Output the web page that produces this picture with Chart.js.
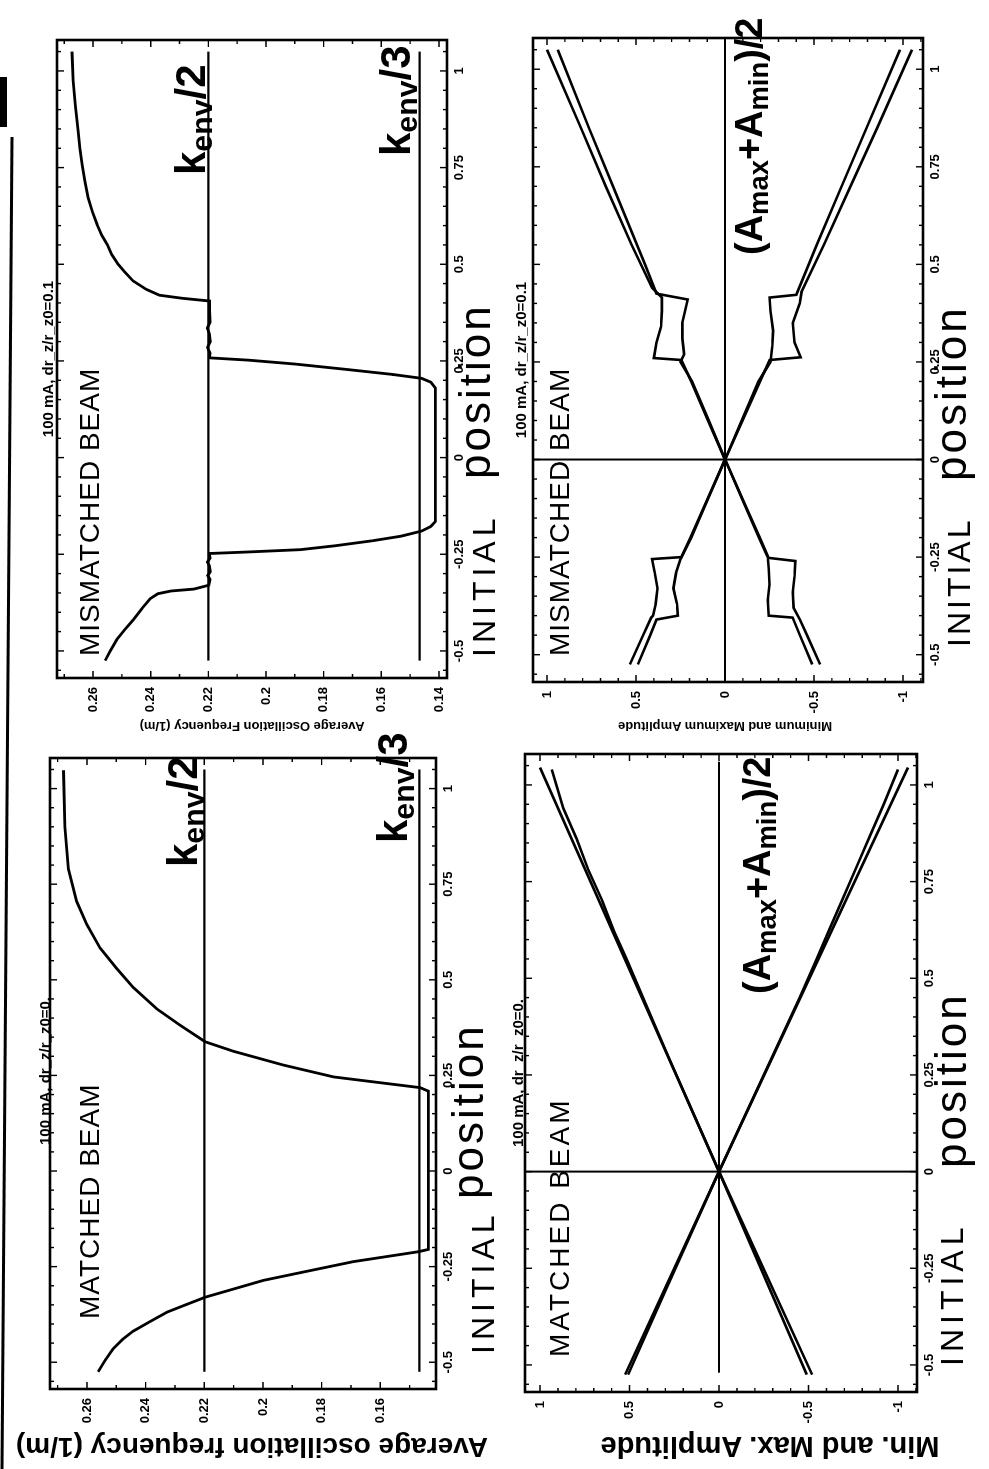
<!DOCTYPE html>
<html>
<head>
<meta charset="utf-8">
<script src="https://cdn.jsdelivr.net/npm/chart.js@4.4.0/dist/chart.umd.min.js"></script>
<style>
  html, body { margin: 0; padding: 0; background: #fff; overflow: hidden; width: 989px; height: 1469px; }
  /* the whole figure is laid out in landscape and turned a quarter turn, like the scan */
  #sheet { position: absolute; left: 0; top: 0; width: 1469px; height: 989px;
           transform-origin: 0 0; transform: translate(0, 1469px) rotate(-90deg);
           font-family: "Liberation Sans", Arial, sans-serif; color: #000; }
  canvas { position: absolute; }
  .t { position: absolute; white-space: nowrap; line-height: 1; }
  .hand { font-weight: normal; }
  .big { font-size: 44px; letter-spacing: 3px; }
  .k { font-weight: bold; font-size: 42px; }
  .k sub, .am sub { font-size: 0.72em; vertical-align: -0.22em; line-height: 0; }
  .am { font-weight: bold; font-size: 38px; }
  .ttl { font-weight: bold; font-size: 15px; transform: translate(-50%, -50%); }
  .ylab { font-weight: bold; transform: translate(-50%, -50%) rotate(-90deg); }
</style>
</head>
<body>
<div id="sheet">
  <svg style="position:absolute;left:0;top:0" width="1469" height="989">
    <line x1="0" y1="2" x2="1332" y2="12" stroke="#000" stroke-width="3"/>
    <rect x="1342" y="0" width="50" height="7" fill="#000"/>
  </svg>

  <canvas id="cMatFreq" width="700" height="436" style="left:25px;top:30px"></canvas>
  <canvas id="cMisFreq" width="707" height="440" style="left:736px;top:37px"></canvas>
  <canvas id="cMatAmp" width="707" height="442" style="left:22px;top:505px"></canvas>
  <canvas id="cMisAmp" width="713" height="440" style="left:732px;top:513px"></canvas>

  <!-- panel titles -->
  <div class="t ttl" style="left:398px;top:44px">100 mA, dr_z/r_z0=0.</div>
  <div class="t ttl" style="left:1110px;top:47px">100 mA, dr_z/r_z0=0.1</div>
  <div class="t ttl" style="left:396px;top:517px">100 mA, dr_z/r_z0=0.</div>
  <div class="t ttl" style="left:1109px;top:520px">100 mA, dr_z/r_z0=0.1</div>

  <!-- y axis titles -->
  <div class="t ylab" style="left:22px;top:252px;font-size:28px">Average oscillation frequency (1/m)</div>
  <div class="t ylab" style="left:742px;top:252px;font-size:13px">Average Oscillation Frequency (1/m)</div>
  <div class="t ylab" style="left:22px;top:770px;font-size:29px">Min. and Max. Amplitude</div>
  <div class="t ylab" style="left:742px;top:725px;font-size:13px">Minimum and Maximum Amplitude</div>

  <!-- hand written notes -->
  <div class="t hand" style="left:150px;top:76px;font-size:28px;letter-spacing:1px">MATCHED BEAM</div>
  <div class="t hand" style="left:813px;top:76px;font-size:28px;letter-spacing:1px">MISMATCHED BEAM</div>
  <div class="t hand" style="left:112px;top:546px;font-size:28px;letter-spacing:3px">MATCHED BEAM</div>
  <div class="t hand" style="left:813px;top:546px;font-size:28px;letter-spacing:1px">MISMATCHED BEAM</div>

  <div class="t hand" style="left:115px;top:467px;font-size:32px;letter-spacing:5px">INITIAL</div>
  <div class="t hand" style="left:812px;top:468px;font-size:32px;letter-spacing:5px">INITIAL</div>
  <div class="t hand" style="left:103px;top:936px;font-size:32px;letter-spacing:5px">INITIAL</div>
  <div class="t hand" style="left:822px;top:943px;font-size:32px;letter-spacing:3px">INITIAL</div>

  <div class="t big" style="left:270px;top:446px">position</div>
  <div class="t big" style="left:990px;top:453px">position</div>
  <div class="t big" style="left:301px;top:929px">position</div>
  <div class="t big" style="left:988px;top:929px">position</div>

  <div class="t k" style="left:602px;top:162px">k<sub>env</sub>/2</div>
  <div class="t k" style="left:626px;top:372px">k<sub>env</sub>/3</div>
  <div class="t k" style="left:1294px;top:170px">k<sub>env</sub>/2</div>
  <div class="t k" style="left:1313px;top:375px">k<sub>env</sub>/3</div>

  <div class="t am" style="left:475px;top:738px">(A<sub>max</sub>+A<sub>min</sub>)/2</div>
  <div class="t am" style="left:1214px;top:730px">(A<sub>max</sub>+A<sub>min</sub>)/2</div>
</div>

<script>
// axes
const posTicks = [-0.5, -0.25, 0, 0.25, 0.5, 0.75, 1];
const freqTicksMat = [0.16, 0.18, 0.2, 0.22, 0.24, 0.26];
const freqTicksMis = [0.14, 0.16, 0.18, 0.2, 0.22, 0.24, 0.26];
const ampTicks = [-1, -0.5, 0, 0.5, 1];

// reference lines
const kEnvHalf = 0.22;
const kEnvThird = 0.1467;
const refLinePos = [-0.525, 1.05];

// matched beam, oscillation frequency vs initial position
const matFreqPos = [-0.525, -0.495, -0.465, -0.44, -0.419, -0.395, -0.369, -0.35, -0.33, -0.31,
  -0.286, -0.262, -0.237, -0.224, -0.211, -0.205, 0, 0.209, 0.218, 0.246, 0.277, 0.313, 0.338,
  0.381, 0.424, 0.48, 0.529, 0.583, 0.645, 0.705, 0.79, 0.9, 1.048];
const matFreqVal = [0.2562, 0.2538, 0.2511, 0.2478, 0.2443, 0.2388, 0.2327, 0.2264, 0.2197, 0.2107,
  0.1999, 0.1849, 0.1692, 0.1581, 0.147, 0.1436, 0.1436, 0.1436, 0.1464, 0.1759, 0.193, 0.21, 0.2197,
  0.2282, 0.2362, 0.2442, 0.2498, 0.2555, 0.2601, 0.2635, 0.2663, 0.2675, 0.268];

// mismatched beam, oscillation frequency vs initial position
const misFreqPos = [-0.525, -0.5, -0.47, -0.445, -0.42, -0.39, -0.365, -0.352, -0.345, -0.34,
  -0.33, -0.315, -0.305, -0.295, -0.28, -0.27, -0.26, -0.248, -0.244, -0.238, -0.228, -0.215,
  -0.203, -0.19, -0.178, -0.165, 0.18, 0.195, 0.205, 0.215, 0.228, 0.242, 0.252, 0.258, 0.27,
  0.285, 0.3, 0.32, 0.335, 0.35, 0.38, 0.405, 0.412, 0.42, 0.435, 0.457, 0.48, 0.5, 0.525, 0.551,
  0.575, 0.603, 0.635, 0.672, 0.715, 0.758, 0.8, 0.845, 0.91, 0.975, 1.05];
const misFreqVal = [0.2558, 0.254, 0.2517, 0.249, 0.2461, 0.243, 0.2402, 0.2375, 0.233, 0.225,
  0.2198, 0.2194, 0.2202, 0.2193, 0.2196, 0.2203, 0.2194, 0.2196, 0.206, 0.188, 0.176, 0.163,
  0.153, 0.146, 0.1428, 0.1412, 0.1412, 0.1428, 0.146, 0.156, 0.172, 0.19, 0.206, 0.2196, 0.2194,
  0.2203, 0.2193, 0.2196, 0.2204, 0.2194, 0.2196, 0.2196, 0.229, 0.237, 0.2415, 0.2461, 0.249, 0.2513,
  0.2535, 0.2551, 0.257, 0.2586, 0.2602, 0.2617, 0.2628, 0.2638, 0.2646, 0.2652, 0.2661, 0.2669, 0.2673];

// matched beam, min and max amplitude
const matMaxOuterPos = [-0.525, 0, 1.045];
const matMaxOuterVal = [0.525, 0, 1.0];
const matMaxInnerPos = [-0.525, -0.3, 0, 0.3, 0.45, 0.55, 0.62, 0.7, 0.78, 0.86, 0.94, 1.04];
const matMaxInnerVal = [0.508, 0.292, 0, 0.286, 0.425, 0.517, 0.585, 0.652, 0.73, 0.795, 0.87, 0.935];
const matMinOuterPos = [-0.525, 0, 1.045];
const matMinOuterVal = [-0.52, 0, -1.056];
const matMinInnerPos = [-0.525, 0, 0.45, 0.55, 0.63, 0.71, 0.79, 0.87, 0.95, 1.04];
const matMinInnerVal = [-0.49, 0, -0.45, -0.545, -0.62, -0.695, -0.77, -0.845, -0.92, -1.0];
const matMidPos = [-0.52, 1.06];
const matMidVal = [0, 0];

// mismatched beam, min and max amplitude
const misMaxAPos = [-0.525, -0.45, -0.405, -0.4, -0.37, -0.33, -0.29, -0.255, -0.25, -0.2, -0.1, 0,
  0.1, 0.2, 0.255, 0.26, 0.3, 0.34, 0.38, 0.415, 0.44, 0.55, 0.7, 0.85, 1.05];
const misMaxAVal = [0.535, 0.46, 0.415, 0.405, 0.39, 0.38, 0.395, 0.41, 0.245, 0.195, 0.097, 0,
  0.096, 0.19, 0.245, 0.4, 0.385, 0.36, 0.355, 0.355, 0.41, 0.525, 0.67, 0.81, 1.0];
const misMaxBPos = [-0.525, -0.45, -0.41, -0.4, -0.37, -0.33, -0.29, -0.255, -0.2, -0.1, 0, 0.1,
  0.2, 0.25, 0.27, 0.31, 0.35, 0.41, 0.425, 0.5, 0.7, 0.85, 1.05];
const misMaxBVal = [0.49, 0.42, 0.385, 0.265, 0.27, 0.29, 0.275, 0.25, 0.19, 0.095, 0, 0.092,
  0.185, 0.25, 0.23, 0.24, 0.24, 0.21, 0.385, 0.45, 0.63, 0.765, 0.94];
const misMinAPos = [-0.525, -0.45, -0.41, -0.38, -0.34, -0.3, -0.26, -0.252, -0.2, -0.1, 0, 0.1,
  0.2, 0.255, 0.262, 0.3, 0.35, 0.4, 0.43, 0.55, 0.7, 0.85, 1.05];
const misMinAVal = [-0.534, -0.46, -0.42, -0.385, -0.38, -0.39, -0.395, -0.245, -0.195, -0.097, 0,
  -0.098, -0.196, -0.25, -0.425, -0.39, -0.38, -0.42, -0.43, -0.555, -0.705, -0.855, -1.05];
const misMinBPos = [-0.525, -0.45, -0.405, -0.4, -0.36, -0.32, -0.28, -0.25, -0.2, -0.1, 0, 0.1,
  0.2, 0.25, 0.29, 0.33, 0.38, 0.415, 0.422, 0.55, 0.7, 0.85, 1.05];
const misMinBVal = [-0.49, -0.42, -0.38, -0.245, -0.24, -0.25, -0.245, -0.24, -0.19, -0.095, 0,
  -0.094, -0.188, -0.255, -0.265, -0.27, -0.255, -0.25, -0.4, -0.515, -0.655, -0.795, -0.983];
const misMidPos = [-0.568, 1.078];
const misMidVal = [0, 0];

const posMin = -0.57, posMax = 1.08;
const tickFont = { family: "Liberation Sans", size: 13, weight: "bold" };

// box frame with small inward ticks on all four sides
const frameTicks = {
  id: "frameTicks",
  afterDraw(chart, args, opts) {
    const { ctx, chartArea: a, scales } = chart;
    ctx.save();
    ctx.strokeStyle = "#000";
    ctx.lineWidth = 1.4;
    const marks = (scale, step, major, horiz) => {
      for (let i = Math.ceil(scale.min / step - 1e-9); i * step <= scale.max + 1e-9; i++) {
        const v = i * step;
        const p = scale.getPixelForValue(v);
        const r = v / major;
        const len = Math.abs(r - Math.round(r)) < 1e-6 ? 7 : 4;
        ctx.beginPath();
        if (horiz) {
          ctx.moveTo(p, a.bottom); ctx.lineTo(p, a.bottom - len);
          ctx.moveTo(p, a.top); ctx.lineTo(p, a.top + len);
        } else {
          ctx.moveTo(a.left, p); ctx.lineTo(a.left + len, p);
          ctx.moveTo(a.right, p); ctx.lineTo(a.right - len, p);
        }
        ctx.stroke();
      }
    };
    marks(scales.x, 0.05, 0.25, true);
    marks(scales.y, opts.yStep, opts.yMajor, false);
    ctx.lineWidth = 2.6;
    ctx.strokeRect(a.left, a.top, a.right - a.left, a.bottom - a.top);
    ctx.restore();
  }
};

function pts(xs, ys) {
  return xs.map((x, i) => ({ x: x, y: ys[i] }));
}

function curve(xs, ys, w) {
  return { data: pts(xs, ys), showLine: true, borderColor: "#000", borderWidth: w || 2.6,
           pointRadius: 0, tension: 0, fill: false };
}

function makeChart(id, datasets, yMin, yMax, yTicks, yStep, yMajor, yw) {
  new Chart(document.getElementById(id), {
    type: "scatter",
    data: { datasets: datasets },
    options: {
      responsive: false,
      animation: false,
      events: [],
      layout: { padding: { top: 20, right: 14, left: 0, bottom: 0 } },
      plugins: { legend: { display: false }, tooltip: { enabled: false },
                 frameTicks: { yStep: yStep, yMajor: yMajor } },
      scales: {
        x: {
          type: "linear", min: posMin, max: posMax,
          grid: { display: false, drawTicks: false }, border: { display: false },
          ticks: { font: tickFont, color: "#000", padding: 5, maxRotation: 0, autoSkip: false,
                   callback: (v) => String(v) },
          afterBuildTicks: (s) => { s.ticks = posTicks.map((v) => ({ value: v })); },
          afterFit: (s) => { s.height = 30; }
        },
        y: {
          type: "linear", min: yMin, max: yMax,
          grid: { display: false, drawTicks: false }, border: { display: false },
          ticks: { font: tickFont, color: "#000", padding: 9, autoSkip: false,
                   callback: (v) => String(v) },
          afterBuildTicks: (s) => { s.ticks = yTicks.map((v) => ({ value: v })); },
          afterFit: (s) => { s.width = yw; }
        }
      }
    },
    plugins: [frameTicks]
  });
}

makeChart("cMatFreq", [
  curve(refLinePos, [kEnvHalf, kEnvHalf], 2.2),
  curve(refLinePos, [kEnvThird, kEnvThird], 2.2),
  curve(matFreqPos, matFreqVal, 2.8)
], 0.141, 0.2726, freqTicksMat, 0.01, 0.02, 55);

makeChart("cMisFreq", [
  curve(refLinePos, [kEnvHalf, kEnvHalf], 2.2),
  curve(refLinePos, [kEnvThird, kEnvThird], 2.2),
  curve(misFreqPos, misFreqVal, 2.8)
], 0.1372, 0.2725, freqTicksMis, 0.01, 0.02, 55);

makeChart("cMatAmp", [
  curve(matMidPos, matMidVal, 2),
  curve([0, 0], [-1.106, 1.084], 2),
  curve(matMaxOuterPos, matMaxOuterVal),
  curve(matMaxInnerPos, matMaxInnerVal),
  curve(matMinOuterPos, matMinOuterVal),
  curve(matMinInnerPos, matMinInnerVal)
], -1.106, 1.084, ampTicks, 0.1, 0.5, 55);

makeChart("cMisAmp", [
  curve(misMidPos, misMidVal, 2),
  curve([0, 0], [-1.112, 1.079], 2),
  curve(misMaxAPos, misMaxAVal),
  curve(misMaxBPos, misMaxBVal),
  curve(misMinAPos, misMinAVal),
  curve(misMinBPos, misMinBVal)
], -1.112, 1.079, ampTicks, 0.1, 0.5, 55);
</script>
</body>
</html>
